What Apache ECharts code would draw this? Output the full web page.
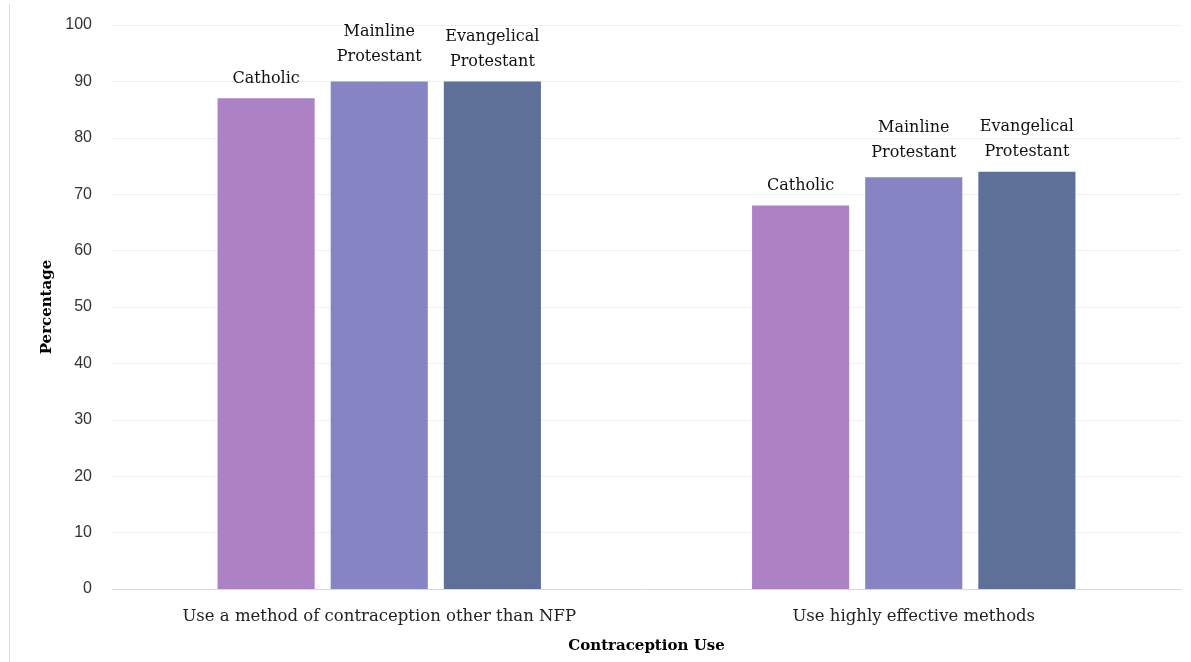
<!DOCTYPE html>
<html>
<head>
<meta charset="utf-8">
<script src="https://cdn.jsdelivr.net/npm/echarts@6/dist/echarts.min.js"></script>
<style>
  html, body { margin: 0; padding: 0; background: #ffffff; }
  #chart { width: 1191px; height: 662px; }
</style>
</head>
<body>
<div id="chart"></div>
<script>
// Contraception use by religious affiliation (percent)
const categories = ['Use a method of contraception other than NFP', 'Use highly effective methods'];
const seriesNames = ['Catholic', 'Mainline Protestant', 'Evangelical Protestant'];
const labelText = ['Catholic', 'Mainline\nProtestant', 'Evangelical\nProtestant'];
const catholic = [87, 68];
const mainline = [90, 73];
const evangelical = [90, 74];
const colors = ['#ac82c4', '#8784c4', '#5e7097'];
const labelGap = [7, 12, 7];

const serif = '"DejaVu Serif", "Liberation Serif", serif';
const values = [catholic, mainline, evangelical];

const chart = echarts.init(document.getElementById('chart'));
chart.setOption({
  animation: false,
  grid: { left: 112, right: 10, top: 25, bottom: 73 },
  xAxis: {
    type: 'category',
    data: categories,
    name: 'Contraception Use',
    nameLocation: 'middle',
    nameGap: 50,
    nameTextStyle: { fontFamily: serif, fontWeight: 'bold', fontSize: 15, color: '#000' },
    axisLine: { lineStyle: { color: '#d9d9d9', width: 1 } },
    axisTick: { show: false },
    axisLabel: { fontFamily: serif, fontSize: 16.5, color: '#222', margin: 19 }
  },
  yAxis: {
    type: 'value',
    min: 0,
    max: 100,
    interval: 10,
    name: 'Percentage',
    nameLocation: 'middle',
    nameGap: 53,
    nameTextStyle: { fontFamily: serif, fontWeight: 'bold', fontSize: 15, color: '#000' },
    axisLine: { show: false },
    axisTick: { show: false },
    axisLabel: { fontFamily: '"Liberation Sans", Arial, sans-serif', fontSize: 16, color: '#333', margin: 20 },
    splitLine: { lineStyle: { color: '#efefef', width: 1 } }
  },
  series: seriesNames.map((name, i) => ({
    name: name,
    type: 'bar',
    data: values[i],
    barGap: '16.5%',
    barCategoryGap: '39.5%',
    itemStyle: { color: colors[i] },
    label: {
      show: true,
      position: 'top',
      distance: labelGap[i],
      formatter: () => labelText[i],
      fontFamily: serif,
      fontSize: 16,
      lineHeight: 25,
      color: '#111',
      align: 'center'
    }
  })),
  graphic: [{
    type: 'line',
    shape: { x1: 9.5, y1: 4, x2: 9.5, y2: 662 },
    style: { stroke: '#dedede', lineWidth: 1 }
  }]
});
</script>
</body>
</html>
